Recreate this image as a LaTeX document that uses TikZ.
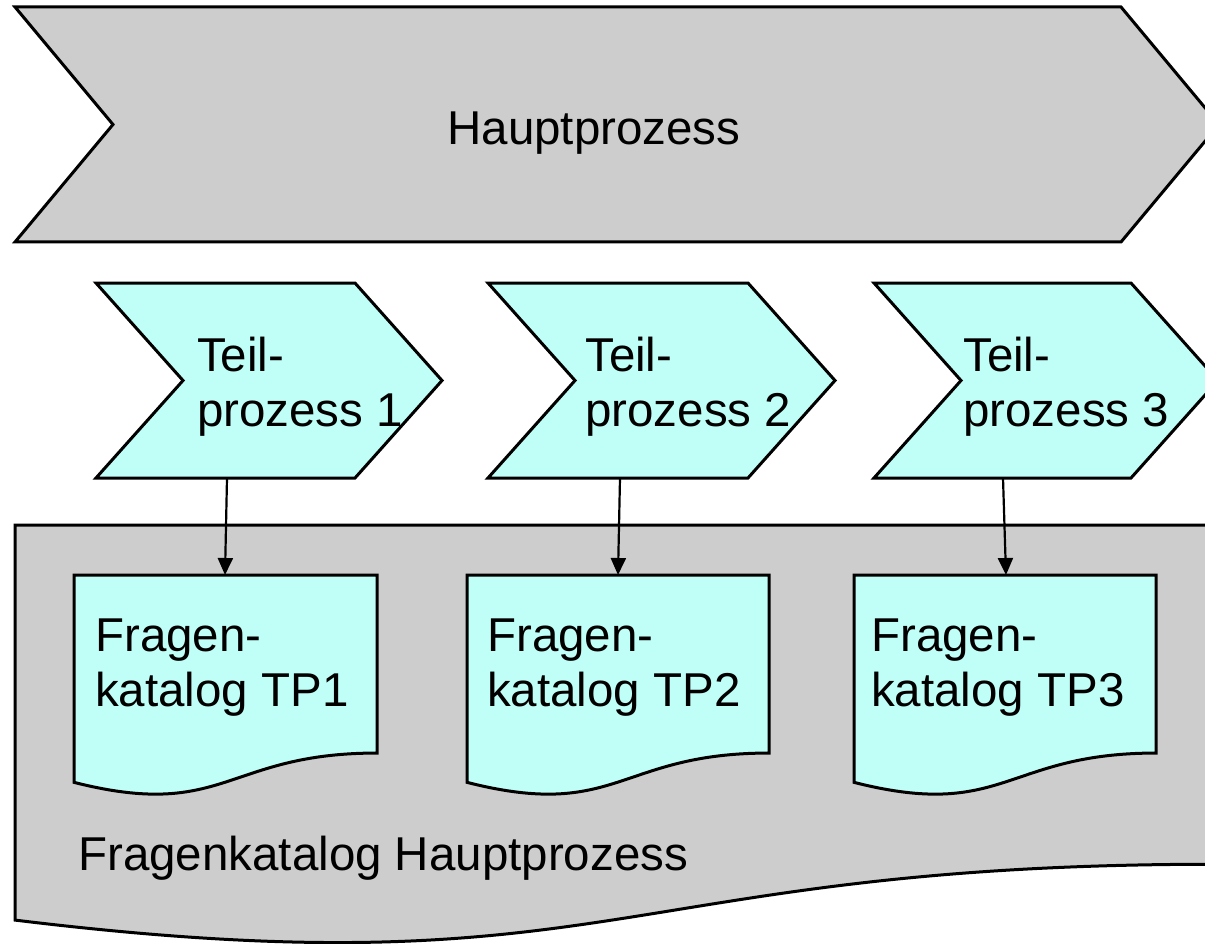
\documentclass[tikz,border=0pt]{standalone}
\usepackage{fontspec}
\setmainfont{Liberation Sans}
\usetikzlibrary{arrows.meta}
\definecolor{procgray}{RGB}{205,205,205}
\definecolor{subcyan}{RGB}{192,255,248}
\tikzset{
  shapeline/.style={draw=black, line width=3pt, line join=miter},
  bigfill/.style={shapeline, fill=procgray},
  subfill/.style={shapeline, fill=subcyan},
  label/.style={inner sep=0pt, font=\fontsize{47.5}{55}\selectfont, align=left, anchor=base west},
  link/.style={draw=black, line width=2.2pt, -{Triangle[length=17pt,width=15pt]}}
}
% chevron: left x, top y, body right x, bottom y, notch depth
\newcommand{\chevronpath}[5]{%
  (#1,#2) -- (#3,#2) -- ({#3+#5},{(#2+#4)/2}) -- (#3,#4) -- (#1,#4)
  -- ({#1+#5},{(#2+#4)/2}) -- cycle}
% document with wavy lower edge: left x, top y, width, height
\newcommand{\docpath}[4]{%
  (#1,#2) -- ({#1+#3},#2) -- ({#1+#3},{#2+0.802*#4})
  .. controls ({#1+0.5*#3},{#2+0.802*#4}) and ({#1+0.5*#3},{#2+1.107*#4}) ..
  (#1,{#2+0.934*#4}) -- cycle}
\begin{document}
\begin{tikzpicture}[x=1pt, y=-1pt]
  \useasboundingbox (0,0) rectangle (1205,944);
  \clip (0,0) rectangle (1205,944);

  % main process
  \path[bigfill] \chevronpath{15}{7}{1121}{242}{98};
  \node[inner sep=0pt, font=\fontsize{47.5}{55}\selectfont, anchor=base] (main) at (594,145) {Hauptprozess};

  % question catalogue of the main process
  \path[bigfill] \docpath{15}{525}{1200}{423};
  \node[label] (mainq) at (78,870) {Fragenkatalog Hauptprozess};

  % sub-processes
  \path[subfill] \chevronpath{96}{283}{355}{478}{87};
  \path[subfill] \chevronpath{488}{283}{748}{478}{87};
  \path[subfill] \chevronpath{874}{283}{1131}{478}{87};
  % multi-line labels: the base anchor sits on the last line
  \node[label] (tp1) at (197,426) {Teil-\\prozess 1};
  \node[label] (tp2) at (585,426) {Teil-\\prozess 2};
  \node[label] (tp3) at (963,426) {Teil-\\prozess 3};

  % question catalogues of the sub-processes
  \path[subfill] \docpath{74}{575}{303}{222};
  \path[subfill] \docpath{467}{575}{302}{222};
  \path[subfill] \docpath{854}{575}{302}{222};
  \node[label] (q1) at (95,706) {Fragen-\\katalog TP1};
  \node[label] (q2) at (487,706) {Fragen-\\katalog TP2};
  \node[label] (q3) at (871,706) {Fragen-\\katalog TP3};

  % connector end points
  \coordinate (tp1b) at (227,478);
  \coordinate (tp2b) at (620,478);
  \coordinate (tp3b) at (1003,478);
  \coordinate (q1t) at (225,575);
  \coordinate (q2t) at (618,575);
  \coordinate (q3t) at (1006,575);
  \draw[link] (tp1b) -- (q1t);
  \draw[link] (tp2b) -- (q2t);
  \draw[link] (tp3b) -- (q3t);
\end{tikzpicture}
\end{document}
